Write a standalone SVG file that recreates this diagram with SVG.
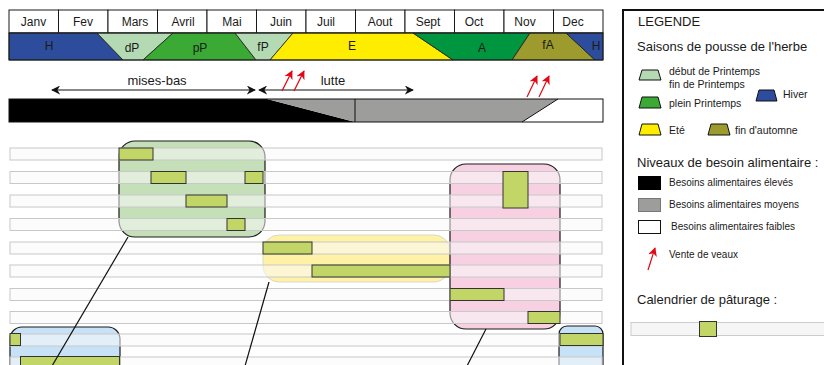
<svg xmlns="http://www.w3.org/2000/svg" width="824" height="365" viewBox="0 0 824 365">
<defs>
<style>
text{font-family:"Liberation Sans",Arial,sans-serif;fill:#1a1a1a}
.m{font-size:12px;text-anchor:middle}
.s{font-size:12px;text-anchor:middle}
.cell{fill:#fff;stroke:#1a1a1a;stroke-width:1}
.seas{stroke:#1a1a1a;stroke-width:0.8}
.row{fill:#fafafa;fill-opacity:0.55;stroke:#c8c8c8;stroke-width:1}
.bar{fill:#c2d567;stroke:#333;stroke-width:1}
.lg{font-size:13px}
.ls{font-size:10.5px}
.conn{stroke:#111;stroke-width:1.2;fill:none}
</style>
<marker id="ah" viewBox="0 0 10 10" refX="9" refY="5" markerWidth="9" markerHeight="9" markerUnits="userSpaceOnUse" orient="auto-start-reverse">
<path d="M0,0 L10,5 L0,10 L3,5 z" fill="#111"/>
</marker>
<marker id="rh" viewBox="0 0 10 10" refX="9" refY="5" markerWidth="9" markerHeight="9" markerUnits="userSpaceOnUse" orient="auto">
<path d="M0,0 L10,5 L0,10 L3,5 z" fill="#e30613"/>
</marker>
</defs>
<rect width="824" height="365" fill="#fff"/>

<g id="months">
<rect class="cell" x="9" y="10" width="49.5" height="23"/>
<rect class="cell" x="58.5" y="10" width="49.5" height="23"/>
<rect class="cell" x="108" y="10" width="49.5" height="23"/>
<rect class="cell" x="157.5" y="10" width="49.5" height="23"/>
<rect class="cell" x="207" y="10" width="49.5" height="23"/>
<rect class="cell" x="256.5" y="10" width="49.5" height="23"/>
<rect class="cell" x="306" y="10" width="49.5" height="23"/>
<rect class="cell" x="355.5" y="10" width="49.5" height="23"/>
<rect class="cell" x="405" y="10" width="49.5" height="23"/>
<rect class="cell" x="454.5" y="10" width="49.5" height="23"/>
<rect class="cell" x="504" y="10" width="49.5" height="23"/>
<rect class="cell" x="553.5" y="10" width="49.5" height="23"/>
<text class="m" x="33.5" y="26">Janv</text>
<text class="m" x="83" y="26">Fev</text>
<text class="m" x="135" y="26">Mars</text>
<text class="m" x="183" y="26">Avril</text>
<text class="m" x="232" y="26">Mai</text>
<text class="m" x="281" y="26">Juin</text>
<text class="m" x="326" y="26">Juil</text>
<text class="m" x="380" y="26">Aout</text>
<text class="m" x="428" y="26">Sept</text>
<text class="m" x="474" y="26">Oct</text>
<text class="m" x="525" y="26">Nov</text>
<text class="m" x="573" y="26">Dec</text>
</g>

<g id="seasons">
<polygon class="seas" fill="#2d4d9c" points="9,33 97,33 123,60 9,60"/>
<polygon class="seas" fill="#b4dab3" points="97,33 173,33 143,60 123,60"/>
<polygon class="seas" fill="#3aaa35" points="173,33 235,33 256,60 143,60"/>
<polygon class="seas" fill="#b4dab3" points="235,33 293,33 270,60 256,60"/>
<polygon class="seas" fill="#ffed00" points="293,33 413,33 453,60 270,60"/>
<polygon class="seas" fill="#009640" points="413,33 530,33 512,60 453,60"/>
<polygon class="seas" fill="#9d9a2e" points="530,33 566,33 595,60 512,60"/>
<polygon class="seas" fill="#2d4d9c" points="566,33 603,33 603,60 595,60"/>
<rect x="9" y="33" width="594" height="27" fill="none" stroke="#1a1a1a" stroke-width="1"/>
<text class="s" x="49" y="50">H</text>
<text class="s" x="132" y="52">dP</text>
<text class="s" x="200" y="52">pP</text>
<text class="s" x="263" y="51">fP</text>
<text class="s" x="352" y="50">E</text>
<text class="s" x="482" y="52">A</text>
<text class="s" x="548" y="49">fA</text>
<text class="s" x="596" y="50">H</text>
</g>

<g id="periods">
<line x1="52" y1="90" x2="255" y2="90" stroke="#111" stroke-width="1.2" marker-start="url(#ah)" marker-end="url(#ah)"/>
<text x="157" y="85" font-size="13" text-anchor="middle">mises-bas</text>
<line x1="259" y1="90" x2="413" y2="90" stroke="#111" stroke-width="1.2" marker-start="url(#ah)" marker-end="url(#ah)"/>
<text x="333" y="85" font-size="13" text-anchor="middle">lutte</text>
<g stroke="#e30613" stroke-width="1.2">
<line x1="282" y1="91" x2="292" y2="71" marker-end="url(#rh)"/>
<line x1="294" y1="91" x2="304" y2="71" marker-end="url(#rh)"/>
<line x1="527" y1="97" x2="537" y2="76" marker-end="url(#rh)"/>
<line x1="539" y1="97" x2="549" y2="76" marker-end="url(#rh)"/>
</g>
</g>

<g id="needs">
<rect x="9" y="99" width="594" height="23" fill="#fff"/>
<polygon fill="#000" points="9,99 267,99 355,122 9,122"/>
<polygon fill="#9d9d9c" points="267,99 558,99 522,122 355,122"/>
<line x1="355" y1="99" x2="355" y2="122" stroke="#111" stroke-width="1"/>
<line x1="522" y1="122" x2="558" y2="99" stroke="#111" stroke-width="1"/>
<rect x="9" y="99" width="594" height="23" fill="none" stroke="#111" stroke-width="1"/>
</g>

<g id="group-spring">
<rect x="119" y="141" width="146" height="96" rx="16" fill="#c5e0b8" stroke="#1a1a1a" stroke-width="1.2"/>
</g>
<g id="group-summer">
<rect x="263" y="235" width="187" height="47" rx="16" fill="#fff2a6" stroke="#d8d8c8" stroke-width="1"/>
</g>
<g id="group-autumn">
<rect x="450" y="164" width="110" height="165" rx="16" fill="#f7d1e2" stroke="#1a1a1a" stroke-width="1.2"/>
</g>
<g id="group-winter-left">
<rect x="10" y="327" width="110" height="60" rx="12" fill="#c7e2f6" stroke="#1a1a1a" stroke-width="1.2"/>
</g>
<g id="group-winter-right">
<rect x="559" y="326" width="44" height="60" rx="8" fill="#c7e2f6" stroke="#1a1a1a" stroke-width="1.2"/>
</g>

<g id="rows">
<rect class="row" x="10" y="148" width="592" height="12"/>
<rect class="row" x="10" y="171.5" width="592" height="12"/>
<rect class="row" x="10" y="195" width="592" height="12"/>
<rect class="row" x="10" y="218.5" width="592" height="12"/>
<rect class="row" x="10" y="242" width="592" height="12"/>
<rect class="row" x="10" y="265" width="592" height="12"/>
<rect class="row" x="10" y="288.5" width="592" height="12"/>
<rect class="row" x="10" y="311.5" width="592" height="12"/>
<rect class="row" x="10" y="334" width="592" height="12"/>
<rect class="row" x="10" y="357" width="592" height="12"/>
</g>

<g id="grazing">
<rect class="bar" x="119" y="148" width="34" height="12"/>
<rect class="bar" x="151" y="171.5" width="35" height="12"/>
<rect class="bar" x="245" y="171.5" width="18" height="12"/>
<rect class="bar" x="186" y="195" width="41" height="12"/>
<rect class="bar" x="227" y="218.5" width="18" height="12"/>
<rect class="bar" x="263" y="242" width="49" height="12"/>
<rect class="bar" x="312" y="265" width="138" height="12"/>
<rect class="bar" x="503" y="171.5" width="25" height="36.5"/>
<rect class="bar" x="450" y="288.5" width="54" height="12"/>
<rect class="bar" x="528" y="311.5" width="32" height="12"/>
<rect class="bar" x="10" y="333.5" width="10.5" height="12"/>
<rect class="bar" x="20.5" y="356.5" width="99" height="12"/>
<rect class="bar" x="560" y="333.5" width="43" height="12"/>
</g>

<g id="connectors">
<line class="conn" x1="128" y1="237" x2="52" y2="366"/>
<line class="conn" x1="269" y1="282" x2="245" y2="366"/>
<line class="conn" x1="486" y1="329" x2="467" y2="366"/>
</g>

<g id="legend">
<rect x="623" y="10" width="210" height="365" fill="#fff" stroke="#111" stroke-width="2"/>
<text x="638" y="26" font-size="13">LEGENDE</text>
<text x="637" y="51" class="lg">Saisons de pousse de l'herbe</text>
<polygon fill="#b4dab3" stroke="#111" stroke-width="1" points="642,70 658,70 661,80 639,80"/>
<text x="669" y="75" class="ls">début de Printemps</text>
<text x="669" y="88" class="ls">fin de Printemps</text>
<polygon fill="#3aaa35" stroke="#111" stroke-width="1" points="642,97 658,97 661,108 639,108"/>
<text x="669" y="107" class="ls">plein Printemps</text>
<polygon fill="#2d4d9c" stroke="#111" stroke-width="1" points="759,90 774,90 777,101 756,101"/>
<text x="783" y="98" class="ls">Hiver</text>
<polygon fill="#ffed00" stroke="#111" stroke-width="1" points="642,124 658,124 661,135 639,135"/>
<text x="669" y="134" class="ls">Eté</text>
<polygon fill="#9d9a2e" stroke="#111" stroke-width="1" points="711,124 727,124 730,135 708,135"/>
<text x="735" y="134" class="ls">fin d'automne</text>
<text x="637" y="167" class="lg">Niveaux de besoin alimentaire :</text>
<rect x="638" y="176" width="23" height="14" fill="#000"/>
<text x="669" y="186" font-size="10">Besoins alimentaires élevés</text>
<rect x="638.5" y="198.5" width="22" height="13" fill="#9d9d9c" stroke="#777" stroke-width="1"/>
<text x="669" y="208" font-size="10">Besoins alimentaires moyens</text>
<rect x="638.5" y="220.5" width="22" height="13" fill="#fff" stroke="#111" stroke-width="1"/>
<text x="671" y="230" font-size="10">Besoins alimentaires faibles</text>
<line x1="648" y1="270" x2="655" y2="248" stroke="#e30613" stroke-width="1.2" marker-end="url(#rh)"/>
<text x="669" y="258" font-size="10">Vente de veaux</text>
<text x="637" y="304" class="lg">Calendrier de pâturage :</text>
<rect x="631" y="322.5" width="200" height="13" fill="#f6f6f6" stroke="#ccc" stroke-width="1"/>
<rect x="699.5" y="321.5" width="17" height="15" class="bar"/>
</g>
</svg>
